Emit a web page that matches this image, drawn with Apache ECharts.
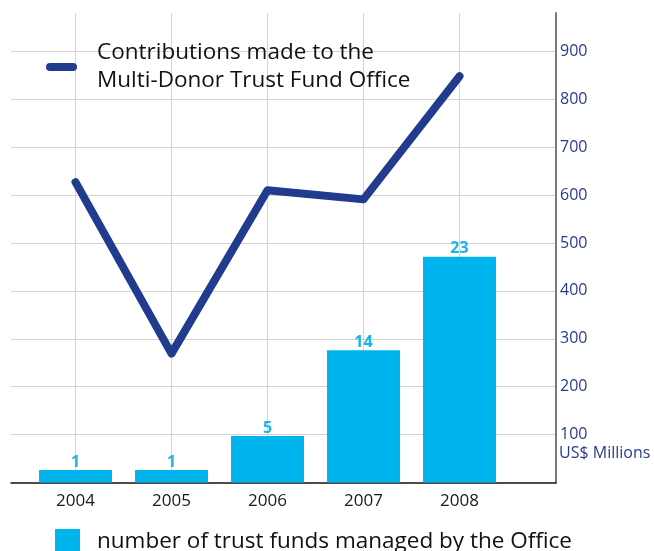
<!DOCTYPE html>
<html lang="en">
<head>
    <meta charset="UTF-8">
    <title>Multi-Donor Trust Fund Office</title>
    <script type="text/javascript" src="https://cdn.jsdelivr.net/npm/echarts@6/dist/echarts.min.js"></script>
    <style>
        html, body { margin: 0; padding: 0; background: #fff; }
        #chart { width: 654px; height: 551px; }
    </style>
</head>
<body>
<div id="chart"></div>

<script>
    // data
    var years = ['2004', '2005', '2006', '2007', '2008'];
    var contributions = [627, 269, 610, 591, 848];   // US$ millions
    var fundCounts = [1, 1, 5, 14, 23];               // bar labels
    var barHeights = [26, 26, 97, 276, 471];          // bar tops on the US$ scale
    var yTicks = [100, 200, 300, 400, 500, 600, 700, 800, 900];

    var lineName = 'Contributions made to the\nMulti-Donor Trust Fund Office';
    var barName = 'number of trust funds managed by the Office';

    var blue = '#213b8f';
    var cyan = '#00b5ee';
    var font = 'Open Sans';

    var chart = echarts.init(document.getElementById('chart'));

    var option = {
        backgroundColor: '#fff',
        textStyle: { fontFamily: font },
        animation: false,
        grid: [
            // background frame: horizontal lines + right axis
            { left: 11, right: 98, top: 13, bottom: 68.5 },
            // data area: five categories, 96px apart
            { left: 27.5, width: 480, top: 13, bottom: 68.5 }
        ],
        legend: [
            {
                data: [lineName],
                left: 46,
                top: 25,
                padding: 0,
                itemWidth: 31,
                itemHeight: 8,
                icon: 'path://M4,0 H27 A4,4 0 0 1 27,8 H4 A4,4 0 0 1 4,0 Z',
                itemStyle: { color: blue },
                textStyle: {
                    fontFamily: font,
                    fontSize: 22.5,
                    color: '#111',
                    lineHeight: 28,
                    padding: [28, 0, 0, 15]
                },
                selectedMode: false
            },
            {
                data: [barName],
                left: 55,
                top: 529,
                padding: 0,
                itemWidth: 25,
                itemHeight: 25,
                icon: 'rect',
                textStyle: {
                    fontFamily: font,
                    fontSize: 22.5,
                    color: '#111',
                    padding: [0, 0, 0, 12]
                },
                selectedMode: false
            }
        ],
        xAxis: [
            {
                gridIndex: 0,
                type: 'value',
                min: 0,
                max: 1,
                axisLine: { show: true, onZero: false, lineStyle: { color: '#111', width: 1.5 } },
                axisTick: { show: false },
                axisLabel: { show: false },
                splitLine: { show: false }
            },
            {
                gridIndex: 1,
                type: 'category',
                data: years,
                axisLine: { show: false },
                axisTick: { show: false },
                axisLabel: { color: '#1a1a1a', fontSize: 17, margin: 10, fontFamily: font },
                splitLine: { show: false }
            }
        ],
        yAxis: [
            {
                gridIndex: 0,
                type: 'value',
                position: 'right',
                min: 0,
                max: 980,
                interval: 100,
                axisLine: { show: true, onZero: false, lineStyle: { color: '#7a7a7a', width: 2 } },
                axisTick: { show: false },
                axisLabel: {
                    color: '#2b3a8c',
                    fontSize: 16,
                    margin: 4,
                    fontFamily: font,
                    showMinLabel: false,
                    showMaxLabel: false,
                    formatter: function (v) {
                        return yTicks.indexOf(v) >= 0 ? String(v) : '';
                    }
                },
                splitLine: {
                    show: true,
                    showMinLine: false,
                    showMaxLine: false,
                    lineStyle: { color: '#d3d3d3', width: 1 }
                }
            },
            {
                gridIndex: 1,
                type: 'value',
                min: 0,
                max: 980,
                show: false
            }
        ],
        graphic: [
            {
                type: 'text',
                left: 559,
                top: 445,
                style: {
                    text: 'US$ Millions',
                    fill: '#2b3a8c',
                    font: '16px "' + font + '"'
                }
            }
        ],
        series: [
            {
                // vertical guide lines through the category centres
                name: 'guides',
                type: 'line',
                xAxisIndex: 1,
                yAxisIndex: 1,
                data: [],
                z: 0,
                silent: true,
                markLine: {
                    silent: true,
                    z: 0,
                    symbol: 'none',
                    label: { show: false },
                    lineStyle: { color: '#d3d3d3', width: 1, type: 'solid' },
                    data: years.map(function (y) { return { xAxis: y }; })
                }
            },
            {
                name: barName,
                type: 'bar',
                xAxisIndex: 1,
                yAxisIndex: 1,
                barWidth: 73,
                z: 2,
                itemStyle: { color: cyan },
                label: {
                    show: true,
                    position: 'top',
                    distance: 0,
                    color: '#1cb4ec',
                    fontWeight: 'bold',
                    fontSize: 16,
                    fontFamily: font,
                    formatter: function (p) { return String(fundCounts[p.dataIndex]); }
                },
                data: barHeights
            },
            {
                name: lineName,
                type: 'line',
                xAxisIndex: 1,
                yAxisIndex: 1,
                z: 3,
                symbol: 'none',
                lineStyle: { color: blue, width: 8, cap: 'round', join: 'round' },
                itemStyle: { color: blue },
                data: contributions
            }
        ]
    };

    chart.setOption(option);
    window.onresize = function () {
        chart.resize();
    };
</script>
</body>
</html>
